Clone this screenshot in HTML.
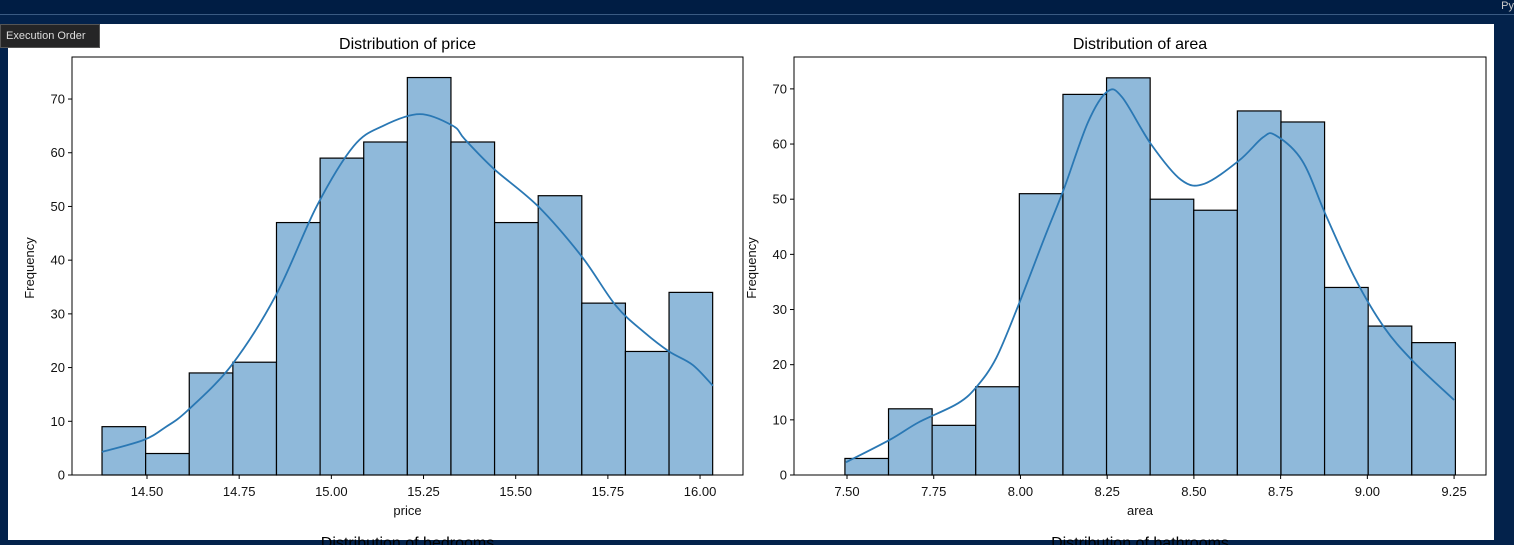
<!DOCTYPE html>
<html><head><meta charset="utf-8"><style>
body{margin:0;width:1514px;height:545px;overflow:hidden;background:#03224b;font-family:"Liberation Sans",sans-serif}
#top{position:absolute;left:0;top:0;width:1514px;height:14px;background:#001d44;border-bottom:1px solid #3a5a82}
#panel{position:absolute;left:8px;top:24px;width:1486px;height:516px;background:#fff}
#tip{position:absolute;left:0;top:24px;width:98px;height:22px;background:#252526;border:1px solid #555;color:#ddd;font-size:11px;line-height:22px;text-indent:5px}
#py{position:absolute;right:0;top:0;color:#ccc;font-size:11px}
svg{position:absolute;left:0;top:0}
</style></head><body>
<div id="top"></div>
<div id="py">Py</div>
<div id="panel"></div>
<svg id="s" width="1514" height="545"></svg>
<div id="tip">Execution Order</div>
<script>
const priceStart=14.378, priceBin=0.1183;
const priceCounts=[9,4,19,21,47,59,62,74,62,47,52,32,23,34];
const priceKdeX=[14.378,14.49,14.55,14.61,14.73,14.85,14.96,15.06,15.14,15.24,15.33,15.362,15.441,15.561,15.68,15.772,15.85,15.916,15.98,16.035];
const priceKdeY=[4.3,6.5,8.9,12,20.5,33.5,50,61.2,65,67.2,65,62.5,57,50,40.6,31.5,26.5,23,20.5,16.6];
const priceTicks=["14.50","14.75","15.00","15.25","15.50","15.75","16.00"];
const areaStart=7.494, areaBin=0.1257;
const areaCounts=[3,12,9,16,51,69,72,50,48,66,64,34,27,24];
const areaKdeX=[7.497,7.624,7.708,7.820,7.875,7.930,7.993,8.071,8.126,8.195,8.25,8.293,8.376,8.463,8.530,8.630,8.699,8.735,8.812,8.881,8.964,9.048,9.132,9.250];
const areaKdeY=[2.3,6.4,9.6,13,16.1,21.2,30.6,43.3,52,64,69.5,68.5,60,53.5,52.8,57,61.2,61.6,57,47,35.7,26.8,20.6,13.6];
const areaTicks=["7.50","7.75","8.00","8.25","8.50","8.75","9.00","9.25"];
const yTicks=[0,10,20,30,40,50,60,70];
const NS="http://www.w3.org/2000/svg";
const svg=document.getElementById('s');
function el(t,a,txt){const e=document.createElementNS(NS,t);for(const k in a)e.setAttribute(k,a[k]);if(txt!==undefined)e.textContent=txt;svg.appendChild(e);return e;}
function spline(P){
  let d='M'+P[0][0].toFixed(1)+','+P[0][1].toFixed(1);
  for(let i=0;i<P.length-1;i++){
    const p0=P[Math.max(0,i-1)],p1=P[i],p2=P[i+1],p3=P[Math.min(P.length-1,i+2)];
    const c1=[p1[0]+(p2[0]-p0[0])/6,p1[1]+(p2[1]-p0[1])/6];
    const c2=[p2[0]-(p3[0]-p1[0])/6,p2[1]-(p3[1]-p1[1])/6];
    d+='C'+c1[0].toFixed(1)+','+c1[1].toFixed(1)+' '+c2[0].toFixed(1)+','+c2[1].toFixed(1)+' '+p2[0].toFixed(1)+','+p2[1].toFixed(1);
  }
  return d;
}
function chart(o){
  const sx=v=>o.x0px+(v-o.x0v)*o.kx, sy=v=>o.bottom-v*o.ky;
  o.counts.forEach((c,i)=>{
    const a=sx(o.start+i*o.bin), b=sx(o.start+(i+1)*o.bin);
    const r=el('rect',{x:a,y:sy(c),width:b-a,height:sy(0)-sy(c),fill:'#8fb9da',stroke:'#000','stroke-width':1.2});
    
    
  });
  const pts=o.kx_.map((v,i)=>[sx(v),sy(o.ky_[i])]);
  const p=el('path',{d:spline(pts),fill:'none',stroke:'#2a78b4','stroke-width':1.8,'stroke-linejoin':'round'});
  
  
  const f=el('rect',{x:o.left,y:57,width:o.right-o.left,height:o.bottom-57,fill:'none',stroke:'#000','stroke-width':1});
  
  
  yTicks.forEach(v=>{
    el('line',{x1:o.left-4,x2:o.left,y1:sy(v),y2:sy(v),stroke:'#000'});
    const t=el('text',{x:o.left-7,y:sy(v)+4.5,'font-size':13,'text-anchor':'end',fill:'#111'},v);
    
    
  });
  o.ticks.forEach(s=>{
    const X=sx(parseFloat(s));
    el('line',{x1:X,x2:X,y1:o.bottom,y2:o.bottom+4,stroke:'#000'});
    const t=el('text',{x:X,y:o.bottom+21,'font-size':13,'text-anchor':'middle',fill:'#111'},s);
    
    
  });
  const cx=(o.left+o.right)/2;
  const ti=el('text',{x:cx,y:49,'font-size':16,'text-anchor':'middle',fill:'#000'},'Distribution of '+o.name);
  
  
  const xl=el('text',{x:cx,y:515,'font-size':13,'text-anchor':'middle',fill:'#111'},o.name);
  
  
  const yl=el('text',{x:0,y:0,'font-size':13,'text-anchor':'middle',fill:'#111',transform:'translate('+(o.left-38)+',268) rotate(-90)'},'Frequency');
  
  
  const nt=el('text',{x:cx,y:548,'font-size':16,'text-anchor':'middle',fill:'#000'},'Distribution of '+o.next);
  
  
}
chart({name:'price',next:'bedrooms',left:72,right:743,bottom:475,ky:5.371,x0v:14.5,x0px:147,kx:368.7,start:priceStart,bin:priceBin,counts:priceCounts,kx_:priceKdeX,ky_:priceKdeY,ticks:priceTicks});
chart({name:'area',next:'bathrooms',left:794,right:1486,bottom:475,ky:5.516,x0v:7.5,x0px:847,kx:346.9,start:areaStart,bin:areaBin,counts:areaCounts,kx_:areaKdeX,ky_:areaKdeY,ticks:areaTicks});
</script>
</body></html>
